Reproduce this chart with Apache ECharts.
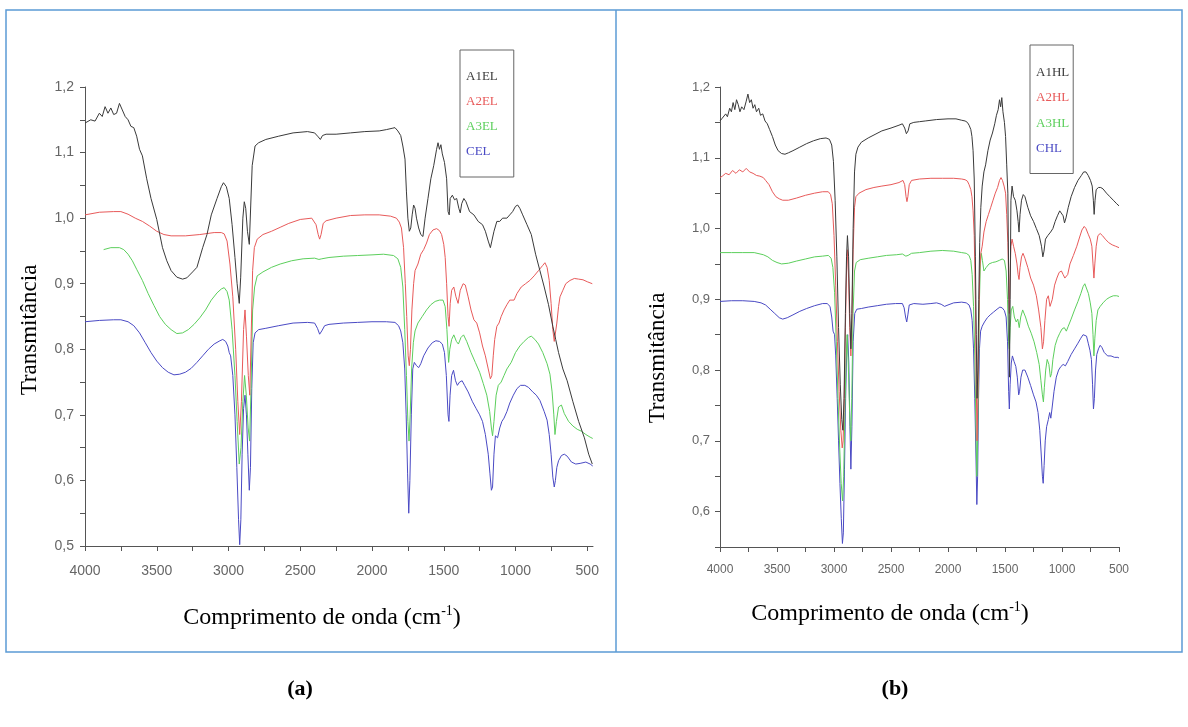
<!DOCTYPE html>
<html>
<head>
<meta charset="utf-8">
<script src="https://cdn.jsdelivr.net/npm/echarts@6/dist/echarts.min.js"></script>
<style>
html,body{margin:0;padding:0;background:#fff;}
#chart{width:1188px;height:727px;}
</style>
</head>
<body>
<div id="chart"></div>
<script>
// ---------- tick labels ----------
const X_LABELS = [4000, 3500, 3000, 2500, 2000, 1500, 1000, 500];
const X_TICKS = [4000, 3750, 3500, 3250, 3000, 2750, 2500, 2250, 2000, 1750, 1500, 1250, 1000, 750, 500];
const YA_LABELS = [0.5, 0.6, 0.7, 0.8, 0.9, 1.0, 1.1, 1.2];
const YA_TICKS = [0.5, 0.55, 0.6, 0.65, 0.7, 0.75, 0.8, 0.85, 0.9, 0.95, 1.0, 1.05, 1.1, 1.15, 1.2];
const YB_LABELS = [0.6, 0.7, 0.8, 0.9, 1.0, 1.1, 1.2];
const YB_TICKS = [0.55, 0.6, 0.65, 0.7, 0.75, 0.8, 0.85, 0.9, 0.95, 1.0, 1.05, 1.1, 1.15, 1.2];

// ---------- series names ----------
const NAMES_A = ['A1EL', 'A2EL', 'A3EL', 'CEL'];
const NAMES_B = ['A1HL', 'A2HL', 'A3HL', 'CHL'];

// ---------- panel (a) data: [wavenumber, transmittance] ----------
const A1EL = [[4000,1.145],[3960,1.150],[3930,1.148],[3900,1.160],[3880,1.155],[3860,1.170],[3840,1.160],[3820,1.168],[3800,1.158],[3780,1.160],[3760,1.175],[3740,1.165],[3720,1.155],[3700,1.150],[3680,1.140],[3660,1.138],[3640,1.125],[3620,1.105],[3600,1.095],[3570,1.060],[3540,1.030],[3500,0.998],[3460,0.955],[3430,0.935],[3400,0.920],[3360,0.910],[3320,0.907],[3290,0.909],[3250,0.918],[3220,0.925],[3180,0.955],[3150,0.975],[3120,1.005],[3080,1.030],[3050,1.048],[3035,1.054],[3015,1.048],[2995,1.030],[2975,0.990],[2955,0.940],[2940,0.900],[2925,0.870],[2915,0.910],[2900,1.000],[2890,1.025],[2880,1.015],[2868,0.980],[2855,0.960],[2845,1.020],[2835,1.080],[2815,1.110],[2790,1.115],[2740,1.120],[2650,1.125],[2550,1.130],[2450,1.132],[2400,1.130],[2375,1.124],[2360,1.120],[2345,1.126],[2320,1.128],[2250,1.128],[2150,1.130],[2050,1.132],[1950,1.133],[1900,1.135],[1860,1.137],[1840,1.138],[1820,1.133],[1800,1.126],[1785,1.110],[1770,1.090],[1760,1.040],[1750,1.000],[1740,0.980],[1730,0.985],[1720,1.005],[1710,1.020],[1700,1.015],[1690,1.000],[1675,0.985],[1660,0.975],[1645,0.972],[1630,1.000],[1610,1.030],[1590,1.060],[1570,1.080],[1550,1.105],[1540,1.115],[1530,1.105],[1520,1.112],[1510,1.098],[1495,1.085],[1480,1.060],[1470,1.010],[1462,1.005],[1455,1.030],[1440,1.035],[1425,1.028],[1410,1.030],[1395,1.015],[1385,1.008],[1375,1.022],[1360,1.030],[1345,1.025],[1320,1.010],[1290,1.005],[1260,0.995],[1230,0.990],[1210,0.980],[1190,0.965],[1175,0.955],[1165,0.965],[1150,0.980],[1130,0.995],[1110,0.995],[1090,1.000],[1060,1.000],[1040,1.005],[1020,1.010],[1000,1.018],[985,1.020],[970,1.015],[950,1.005],[920,0.990],[890,0.975],[860,0.945],[830,0.920],[800,0.895],[770,0.868],[740,0.835],[720,0.815],[700,0.795],[670,0.770],[640,0.752],[600,0.720],[560,0.690],[520,0.665],[490,0.640],[465,0.625]];

const A2EL = [[4000,1.005],[3900,1.009],[3800,1.010],[3750,1.010],[3700,1.006],[3650,1.000],[3600,0.995],[3550,0.988],[3500,0.980],[3450,0.975],[3400,0.973],[3300,0.973],[3200,0.975],[3100,0.978],[3050,0.978],[3030,0.976],[3010,0.965],[2990,0.930],[2970,0.880],[2950,0.800],[2935,0.720],[2922,0.670],[2910,0.720],[2895,0.830],[2885,0.860],[2875,0.820],[2862,0.760],[2852,0.730],[2842,0.820],[2832,0.920],[2820,0.955],[2800,0.968],[2760,0.975],[2700,0.980],[2640,0.986],[2580,0.992],[2500,0.998],[2420,1.000],[2390,0.990],[2375,0.975],[2365,0.968],[2355,0.975],[2340,0.992],[2320,0.996],[2250,1.000],[2150,1.004],[2050,1.005],[1950,1.005],[1870,1.003],[1830,1.000],[1810,0.994],[1795,0.985],[1780,0.955],[1768,0.900],[1758,0.850],[1748,0.790],[1740,0.775],[1732,0.800],[1722,0.860],[1710,0.900],[1700,0.920],[1680,0.930],[1660,0.945],[1640,0.952],[1620,0.962],[1600,0.975],[1575,0.982],[1550,0.984],[1530,0.981],[1515,0.975],[1500,0.960],[1490,0.940],[1480,0.900],[1470,0.850],[1463,0.835],[1455,0.870],[1445,0.890],[1430,0.895],[1415,0.880],[1400,0.870],[1385,0.890],[1365,0.900],[1350,0.898],[1330,0.880],[1310,0.860],[1290,0.845],[1270,0.840],[1250,0.825],[1230,0.805],[1210,0.790],[1190,0.770],[1175,0.755],[1165,0.760],[1155,0.790],[1145,0.815],[1130,0.835],[1115,0.840],[1100,0.850],[1080,0.860],[1060,0.868],[1040,0.875],[1010,0.875],[990,0.885],[960,0.895],[930,0.900],[900,0.905],[870,0.912],[840,0.920],[810,0.928],[795,0.932],[780,0.925],[765,0.905],[752,0.870],[740,0.830],[730,0.812],[722,0.810],[712,0.840],[700,0.865],[690,0.880],[670,0.890],[650,0.900],[620,0.905],[590,0.908],[560,0.907],[530,0.906],[500,0.903],[465,0.900]];

const A3EL = [[3870,0.952],[3820,0.955],[3760,0.955],[3730,0.952],[3700,0.945],[3670,0.935],[3640,0.922],[3600,0.905],[3560,0.885],[3520,0.867],[3480,0.850],[3440,0.838],[3400,0.830],[3360,0.824],[3320,0.825],[3280,0.830],[3240,0.838],[3200,0.848],[3160,0.860],[3120,0.875],[3080,0.886],[3050,0.892],[3030,0.894],[3010,0.888],[2995,0.875],[2975,0.830],[2955,0.760],[2940,0.690],[2925,0.625],[2913,0.650],[2900,0.720],[2888,0.760],[2876,0.730],[2863,0.680],[2853,0.660],[2843,0.740],[2832,0.860],[2818,0.895],[2800,0.912],[2760,0.918],[2700,0.925],[2640,0.930],[2560,0.935],[2480,0.938],[2400,0.939],[2370,0.937],[2350,0.938],[2300,0.940],[2200,0.942],[2100,0.943],[2000,0.944],[1920,0.945],[1850,0.943],[1820,0.938],[1800,0.925],[1785,0.895],[1772,0.830],[1760,0.760],[1750,0.690],[1742,0.660],[1734,0.700],[1724,0.770],[1712,0.810],[1700,0.828],[1680,0.840],[1650,0.850],[1620,0.860],[1590,0.868],[1560,0.873],[1530,0.875],[1505,0.875],[1490,0.865],[1478,0.830],[1466,0.780],[1458,0.800],[1445,0.815],[1430,0.822],[1412,0.812],[1398,0.808],[1380,0.818],[1362,0.822],[1340,0.812],[1310,0.795],[1280,0.780],[1250,0.765],[1225,0.748],[1200,0.730],[1180,0.705],[1168,0.680],[1160,0.668],[1150,0.690],[1135,0.730],[1120,0.745],[1100,0.750],[1080,0.760],[1060,0.770],[1030,0.780],[1000,0.795],[970,0.805],[940,0.812],[910,0.818],[890,0.820],[865,0.815],[840,0.808],[810,0.795],[780,0.778],[760,0.762],[745,0.735],[733,0.700],[725,0.670],[715,0.690],[700,0.712],[680,0.715],[660,0.702],[630,0.690],[600,0.683],[570,0.678],[540,0.675],[510,0.670],[480,0.666],[462,0.664]];

const CEL = [[4000,0.842],[3900,0.844],[3800,0.845],[3750,0.845],[3700,0.842],[3660,0.836],[3620,0.825],[3580,0.810],[3540,0.795],[3500,0.782],[3460,0.772],[3420,0.765],[3380,0.761],[3340,0.762],[3300,0.765],[3260,0.771],[3220,0.780],[3180,0.790],[3140,0.800],[3100,0.808],[3060,0.813],[3040,0.815],[3020,0.812],[3005,0.805],[2995,0.795],[2985,0.790],[2970,0.760],[2955,0.700],[2942,0.620],[2930,0.540],[2922,0.502],[2914,0.540],[2905,0.640],[2895,0.710],[2885,0.730],[2875,0.700],[2865,0.640],[2855,0.585],[2847,0.620],[2838,0.740],[2828,0.810],[2815,0.825],[2790,0.830],[2740,0.832],[2650,0.836],[2550,0.840],[2450,0.841],[2400,0.840],[2380,0.832],[2365,0.823],[2350,0.828],[2330,0.836],[2300,0.838],[2200,0.840],[2100,0.841],[2000,0.842],[1900,0.842],[1840,0.841],[1815,0.836],[1800,0.828],[1785,0.810],[1772,0.770],[1762,0.700],[1752,0.610],[1744,0.550],[1736,0.600],[1726,0.700],[1716,0.770],[1705,0.780],[1690,0.775],[1675,0.772],[1660,0.778],[1640,0.790],[1610,0.802],[1580,0.810],[1555,0.813],[1530,0.812],[1510,0.808],[1495,0.795],[1482,0.760],[1470,0.700],[1464,0.690],[1456,0.730],[1445,0.760],[1432,0.768],[1418,0.752],[1405,0.745],[1390,0.750],[1372,0.752],[1355,0.745],[1330,0.735],[1300,0.720],[1275,0.710],[1250,0.700],[1230,0.690],[1210,0.670],[1190,0.640],[1178,0.610],[1168,0.585],[1160,0.590],[1150,0.640],[1140,0.668],[1125,0.665],[1110,0.680],[1095,0.690],[1080,0.695],[1060,0.705],[1040,0.718],[1015,0.730],[990,0.740],[965,0.745],[935,0.745],[910,0.742],[880,0.735],[855,0.730],[830,0.722],[800,0.705],[780,0.692],[765,0.670],[752,0.640],[740,0.605],[730,0.590],[722,0.600],[712,0.620],[700,0.630],[680,0.638],[660,0.640],[640,0.637],[610,0.628],[580,0.625],[550,0.626],[510,0.628],[480,0.625],[462,0.622]];

// ---------- panel (b) data ----------
const A1HL = [[4000,1.152],[3985,1.155],[3970,1.153],[3950,1.162],[3935,1.158],[3915,1.170],[3900,1.165],[3885,1.178],[3870,1.168],[3855,1.182],[3840,1.175],[3825,1.165],[3810,1.172],[3790,1.168],[3770,1.180],[3755,1.190],[3740,1.178],[3725,1.182],[3710,1.170],[3695,1.175],[3680,1.165],[3660,1.170],[3645,1.160],[3625,1.162],[3605,1.152],[3585,1.148],[3565,1.140],[3540,1.130],[3515,1.118],[3490,1.110],[3460,1.106],[3430,1.105],[3400,1.107],[3360,1.110],[3300,1.115],[3240,1.120],[3180,1.124],[3120,1.127],[3070,1.128],[3040,1.126],[3020,1.118],[3005,1.095],[2990,1.040],[2975,0.960],[2960,0.860],[2945,0.780],[2932,0.730],[2922,0.715],[2912,0.760],[2900,0.880],[2890,0.960],[2882,0.990],[2872,0.960],[2862,0.880],[2852,0.830],[2843,0.880],[2832,1.000],[2820,1.080],[2808,1.105],[2790,1.115],[2760,1.122],[2700,1.128],[2640,1.133],[2580,1.138],[2500,1.142],[2430,1.146],[2400,1.148],[2380,1.142],[2365,1.134],[2350,1.138],[2335,1.148],[2300,1.150],[2250,1.151],[2200,1.152],[2100,1.154],[2000,1.155],[1930,1.155],[1880,1.153],[1850,1.152],[1830,1.150],[1815,1.146],[1800,1.140],[1790,1.130],[1780,1.110],[1770,1.070],[1760,0.960],[1752,0.850],[1745,0.760],[1738,0.800],[1730,0.900],[1722,0.980],[1712,1.030],[1700,1.060],[1685,1.080],[1670,1.090],[1650,1.110],[1630,1.125],[1610,1.135],[1590,1.148],[1575,1.160],[1560,1.168],[1548,1.182],[1538,1.172],[1528,1.185],[1518,1.165],[1505,1.150],[1495,1.130],[1485,1.090],[1475,1.050],[1466,0.900],[1461,0.790],[1455,0.900],[1448,1.040],[1438,1.060],[1425,1.045],[1410,1.040],[1395,1.025],[1385,1.010],[1377,0.995],[1368,1.020],[1355,1.040],[1340,1.048],[1325,1.045],[1300,1.030],[1275,1.018],[1250,1.010],[1225,1.000],[1200,0.990],[1180,0.975],[1168,0.960],[1158,0.968],[1145,0.985],[1125,0.990],[1100,0.995],[1080,1.000],[1060,1.010],[1040,1.018],[1020,1.025],[1005,1.026],[990,1.018],[978,1.008],[965,1.015],[945,1.030],[920,1.045],[890,1.058],[860,1.068],[830,1.075],[810,1.080],[790,1.080],[770,1.075],[750,1.068],[735,1.060],[725,1.040],[718,1.020],[710,1.040],[700,1.055],[680,1.058],[660,1.058],[640,1.056],[610,1.050],[580,1.045],[550,1.040],[520,1.035],[500,1.032]];

const A2HL = [[4000,1.072],[3980,1.074],[3950,1.078],[3920,1.076],[3890,1.082],[3860,1.078],[3830,1.083],[3800,1.080],[3770,1.085],[3740,1.080],[3710,1.078],[3680,1.075],[3650,1.074],[3620,1.072],[3600,1.068],[3570,1.062],[3540,1.052],[3510,1.045],[3480,1.042],[3450,1.040],[3400,1.040],[3330,1.043],[3250,1.047],[3170,1.050],[3100,1.052],[3050,1.052],[3030,1.048],[3015,1.035],[3000,0.990],[2985,0.920],[2970,0.840],[2955,0.770],[2940,0.715],[2928,0.690],[2920,0.700],[2910,0.760],[2900,0.860],[2890,0.940],[2882,0.970],[2872,0.930],[2862,0.860],[2852,0.820],[2843,0.870],[2832,0.970],[2820,1.030],[2808,1.045],[2780,1.050],[2720,1.055],[2650,1.058],[2580,1.060],[2500,1.062],[2430,1.065],[2395,1.068],[2380,1.062],[2368,1.045],[2360,1.038],[2352,1.045],[2340,1.062],[2320,1.068],[2250,1.070],[2150,1.071],[2050,1.071],[1950,1.071],[1880,1.070],[1850,1.069],[1830,1.067],[1815,1.062],[1800,1.055],[1790,1.045],[1780,1.025],[1770,0.990],[1760,0.900],[1752,0.780],[1745,0.700],[1738,0.760],[1730,0.860],[1722,0.940],[1712,0.965],[1700,0.975],[1685,0.995],[1665,1.010],[1645,1.020],[1625,1.030],[1605,1.040],[1585,1.050],[1565,1.058],[1548,1.068],[1535,1.072],[1522,1.068],[1508,1.060],[1495,1.050],[1485,1.020],[1475,0.980],[1467,0.920],[1462,0.880],[1456,0.930],[1448,0.975],[1438,0.985],[1425,0.975],[1410,0.965],[1395,0.950],[1385,0.935],[1377,0.928],[1368,0.945],[1355,0.960],[1342,0.965],[1325,0.958],[1300,0.945],[1275,0.930],[1250,0.920],[1225,0.905],[1205,0.885],[1185,0.860],[1172,0.830],[1162,0.840],[1150,0.870],[1135,0.900],[1120,0.905],[1105,0.890],[1095,0.888],[1085,0.900],[1065,0.920],[1045,0.930],[1025,0.938],[1005,0.940],[990,0.935],[975,0.930],[962,0.928],[950,0.935],[930,0.950],[900,0.962],[870,0.975],[845,0.988],[825,0.998],[805,1.003],[790,1.000],[770,0.992],[752,0.985],[738,0.975],[728,0.950],[720,0.930],[712,0.950],[700,0.975],[685,0.990],[665,0.993],[645,0.990],[620,0.985],[590,0.980],[560,0.977],[530,0.975],[500,0.973]];

const A3HL = [[4000,0.966],[3900,0.966],[3800,0.966],[3700,0.966],[3620,0.963],[3580,0.960],[3540,0.955],[3500,0.952],[3460,0.950],[3400,0.951],[3330,0.954],[3250,0.957],[3170,0.960],[3100,0.961],[3050,0.962],[3025,0.958],[3010,0.945],[2995,0.910],[2980,0.840],[2965,0.760],[2950,0.690],[2937,0.640],[2925,0.615],[2915,0.650],[2905,0.740],[2895,0.810],[2885,0.850],[2875,0.810],[2863,0.740],[2853,0.700],[2844,0.760],[2833,0.880],[2820,0.940],[2805,0.952],[2770,0.956],[2700,0.958],[2620,0.960],[2540,0.962],[2450,0.963],[2400,0.964],[2370,0.961],[2350,0.962],[2320,0.965],[2250,0.966],[2150,0.968],[2050,0.969],[1950,0.968],[1880,0.966],[1840,0.965],[1815,0.962],[1800,0.955],[1788,0.935],[1776,0.890],[1765,0.820],[1755,0.720],[1747,0.650],[1740,0.700],[1732,0.800],[1724,0.900],[1716,0.950],[1708,0.965],[1698,0.955],[1685,0.940],[1665,0.945],[1640,0.950],[1610,0.952],[1580,0.953],[1550,0.955],[1525,0.957],[1505,0.955],[1490,0.940],[1478,0.900],[1468,0.840],[1462,0.830],[1455,0.860],[1445,0.885],[1432,0.890],[1418,0.875],[1402,0.868],[1388,0.872],[1375,0.860],[1362,0.875],[1345,0.885],[1320,0.875],[1295,0.862],[1270,0.852],[1245,0.840],[1222,0.825],[1200,0.808],[1185,0.785],[1172,0.765],[1163,0.755],[1155,0.775],[1143,0.800],[1130,0.815],[1115,0.808],[1102,0.790],[1092,0.795],[1080,0.815],[1060,0.835],[1040,0.845],[1020,0.852],[1000,0.858],[980,0.860],[962,0.855],[945,0.862],[920,0.872],[890,0.885],[860,0.897],[835,0.908],[815,0.918],[800,0.922],[785,0.920],[768,0.908],[752,0.895],[738,0.880],[728,0.850],[720,0.820],[712,0.845],[700,0.870],[685,0.885],[665,0.890],[640,0.895],[610,0.900],[580,0.903],[550,0.905],[520,0.905],[500,0.904]];

const CHL = [[4000,0.897],[3900,0.898],[3800,0.898],[3700,0.897],[3640,0.895],[3600,0.892],[3560,0.886],[3520,0.880],[3480,0.874],[3450,0.872],[3410,0.874],[3360,0.878],[3300,0.883],[3240,0.887],[3170,0.891],[3100,0.894],[3060,0.894],[3035,0.890],[3020,0.875],[3008,0.855],[2995,0.850],[2985,0.820],[2972,0.760],[2960,0.700],[2948,0.640],[2936,0.590],[2926,0.555],[2918,0.570],[2908,0.660],[2898,0.760],[2888,0.830],[2880,0.850],[2870,0.810],[2860,0.720],[2852,0.660],[2843,0.720],[2832,0.840],[2818,0.880],[2800,0.886],[2760,0.887],[2700,0.889],[2620,0.891],[2540,0.893],[2460,0.894],[2400,0.894],[2385,0.888],[2372,0.875],[2362,0.868],[2352,0.878],[2340,0.892],[2300,0.894],[2220,0.893],[2150,0.894],[2100,0.895],[2060,0.893],[2030,0.890],[2000,0.892],[1950,0.895],[1880,0.896],[1840,0.895],[1815,0.892],[1800,0.885],[1788,0.870],[1776,0.830],[1765,0.760],[1755,0.680],[1747,0.610],[1740,0.650],[1732,0.760],[1724,0.830],[1714,0.855],[1700,0.862],[1680,0.868],[1655,0.874],[1630,0.878],[1600,0.882],[1570,0.886],[1545,0.889],[1525,0.888],[1505,0.884],[1490,0.875],[1478,0.840],[1468,0.770],[1462,0.745],[1455,0.780],[1445,0.810],[1435,0.820],[1420,0.812],[1405,0.805],[1392,0.790],[1380,0.765],[1372,0.770],[1360,0.790],[1345,0.800],[1325,0.800],[1300,0.790],[1275,0.778],[1250,0.765],[1228,0.755],[1210,0.740],[1195,0.715],[1182,0.680],[1172,0.650],[1165,0.640],[1157,0.665],[1147,0.700],[1135,0.720],[1120,0.730],[1108,0.740],[1098,0.732],[1088,0.745],[1070,0.770],[1050,0.790],[1030,0.800],[1010,0.805],[990,0.808],[970,0.806],[950,0.812],[920,0.822],[890,0.830],[860,0.838],[835,0.845],[815,0.850],[800,0.852],[785,0.848],[770,0.838],[755,0.828],[742,0.815],[732,0.780],[724,0.745],[716,0.760],[706,0.800],[695,0.822],[680,0.830],[665,0.835],[650,0.832],[630,0.825],[600,0.820],[570,0.820],[540,0.818],[510,0.818],[500,0.817]];

// ---------- styling ----------
const COLORS = ['#3a3a3a', '#e85a5a', '#5ccf5c', '#4a4ac4'];
const AXIS_COLOR = '#555';
const LABEL_COLOR = '#666';
const SERIF = '"Liberation Serif", "Times New Roman", serif';
const SANS = '"Liberation Sans", Arial, sans-serif';
const FRAME = '#5b9bd5';

const chart = echarts.init(document.getElementById('chart'), null, {renderer: 'canvas'});

function yFmt(v) { return v.toFixed(1).replace('.', ','); }

function xAxisCfg(idx, min, fontSize, margin) {
  return {
    type: 'value', gridIndex: idx, inverse: true, min: min, max: 4000,
    axisLine: {show: true, onZero: false, lineStyle: {color: AXIS_COLOR, width: 1}},
    axisTick: {show: true, inside: false, length: 5, customValues: X_TICKS, lineStyle: {color: AXIS_COLOR}},
    axisLabel: {show: true, customValues: X_LABELS, margin: margin, color: LABEL_COLOR, fontSize: fontSize, fontFamily: SANS, formatter: v => String(v)},
    splitLine: {show: false}
  };
}
function yAxisCfg(idx, min, ticks, labels, fontSize, margin) {
  return {
    type: 'value', gridIndex: idx, min: min, max: 1.2,
    axisLine: {show: true, onZero: false, lineStyle: {color: AXIS_COLOR, width: 1}},
    axisTick: {show: true, inside: false, length: 5, customValues: ticks, lineStyle: {color: AXIS_COLOR}},
    axisLabel: {show: true, customValues: labels, margin: margin, color: LABEL_COLOR, fontSize: fontSize, fontFamily: SANS, formatter: yFmt},
    splitLine: {show: false}
  };
}

const dataA = [A1EL, A2EL, A3EL, CEL];
const dataB = [A1HL, A2HL, A3HL, CHL];
const series = [];
dataA.forEach((d, i) => series.push({
  name: NAMES_A[i], type: 'line', xAxisIndex: 0, yAxisIndex: 0, data: d,
  showSymbol: false, symbol: 'none', smooth: false, clip: true,
  lineStyle: {color: COLORS[i], width: 1}, itemStyle: {color: COLORS[i]}, z: 5 - i
}));
dataB.forEach((d, i) => series.push({
  name: NAMES_B[i], type: 'line', xAxisIndex: 1, yAxisIndex: 1, data: d,
  showSymbol: false, symbol: 'none', smooth: false, clip: true,
  lineStyle: {color: COLORS[i], width: 1}, itemStyle: {color: COLORS[i]}, z: 5 - i
}));

function legendCfg(names, left, top, padding, gap) {
  return {
    orient: 'vertical', left: left, top: top, padding: padding, itemGap: gap,
    icon: 'rect', itemWidth: 0, itemHeight: 0,
    borderColor: '#666', borderWidth: 1, backgroundColor: '#fff',
    selectedMode: false,
    data: names.map((n, i) => ({name: n, textStyle: {color: COLORS[i]}})),
    textStyle: {fontFamily: SERIF, fontSize: 13, padding: 0}
  };
}

function titleText(x, y) {
  return {
    type: 'text', x: x, y: y, z: 10,
    style: {
      text: '{m|Comprimento de onda (cm}{s|-1}{m|)}',
      align: 'center', verticalAlign: 'middle',
      rich: {
        m: {fontFamily: SERIF, fontSize: 24, fill: '#000', lineHeight: 27},
        s: {fontFamily: SERIF, fontSize: 14, fill: '#000', lineHeight: 27, verticalAlign: 'top', padding: [0, 0, 10, 0]}
      }
    }
  };
}
function yTitle(x, y) {
  return {
    type: 'text', x: x, y: y, rotation: Math.PI / 2, z: 10,
    style: {text: 'Transmitância', fontFamily: SERIF, fontSize: 23, fill: '#000', align: 'center', verticalAlign: 'middle'}
  };
}

const option = {
  backgroundColor: '#fff',
  animation: false,
  grid: [
    {left: 85, top: 87, width: 508, height: 459, containLabel: false},
    {left: 720, top: 87, width: 399, height: 460, containLabel: false}
  ],
  xAxis: [xAxisCfg(0, 460, 14, 18), xAxisCfg(1, 500, 12, 17)],
  yAxis: [
    yAxisCfg(0, 0.5, YA_TICKS, YA_LABELS, 14, 11),
    yAxisCfg(1, 0.55, YB_TICKS, YB_LABELS, 13, 10)
  ],
  legend: [
    legendCfg(NAMES_A, 460, 50, [20, 16, 19, 1], 12),
    legendCfg(NAMES_B, 1030, 45, [21, 4, 18, 1], 12.5)
  ],
  series: series,
  graphic: [
    {type: 'rect', shape: {x: 6, y: 10, width: 1176, height: 642}, style: {fill: 'none', stroke: FRAME, lineWidth: 1.5}, z: 0, silent: true},
    {type: 'line', shape: {x1: 616, y1: 10, x2: 616, y2: 652}, style: {stroke: FRAME, lineWidth: 1.5}, z: 0, silent: true},
    titleText(322, 618),
    titleText(890, 614),
    yTitle(30, 330),
    yTitle(658, 358),
    {type: 'text', x: 300, y: 689, style: {text: '(a)', fontFamily: SERIF, fontSize: 22, fontWeight: 'bold', fill: '#000', align: 'center', verticalAlign: 'middle'}},
    {type: 'text', x: 895, y: 689, style: {text: '(b)', fontFamily: SERIF, fontSize: 22, fontWeight: 'bold', fill: '#000', align: 'center', verticalAlign: 'middle'}}
  ]
};
chart.setOption(option);
</script>
</body>
</html>
